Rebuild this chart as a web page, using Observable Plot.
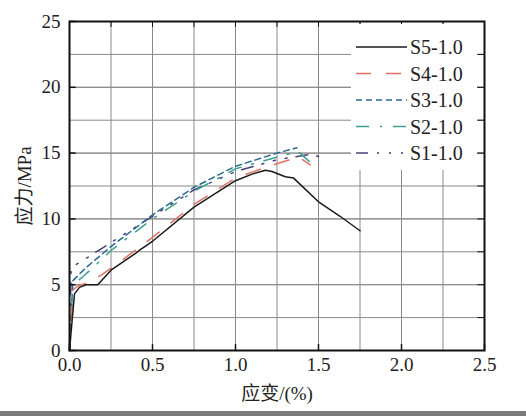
<!DOCTYPE html>
<html><head><meta charset="utf-8">
<script src="https://cdn.jsdelivr.net/npm/d3@7"></script>
<script src="https://cdn.jsdelivr.net/npm/@observablehq/plot@0.6"></script>
<style>
html,body{margin:0;padding:0;background:#fff;}
#wrap{position:relative;width:526px;height:416px;overflow:hidden;}
#bar{position:absolute;left:0;top:411px;width:526px;height:5px;background:#7a7a7a;}
#legend{position:absolute;left:351px;top:24px;}
svg text{font-family:"Liberation Serif","Times New Roman","DejaVu Serif","Noto Sans CJK SC",serif !important;}
</style></head>
<body><div id="wrap"><div id="chart"></div><svg id="legend" width="126" height="146"></svg><div id="bar"></div></div>
<script>
// Data (strain %, stress MPa)
const seriesNames = ["S5-1.0","S4-1.0","S3-1.0","S2-1.0","S1-1.0"];
const seriesColors = ["#1a1a1a","#dd7263","#2a6a8e","#3fa08c","#4b3f7c"];
const seriesDash = ["none","15,15","6,4","13,11,2,11","12,9,2,10,2,10,2,9"];

const S5x = [0,0.03,0.06,0.1,0.17,0.25,0.4,0.42,0.5,0.75,1.0,1.1,1.18,1.22,1.3,1.35,1.5,1.63,1.75];
const S5y = [0,4.3,4.8,5.0,5.0,6.1,7.4,7.6,8.3,10.9,12.9,13.4,13.7,13.6,13.2,13.1,11.3,10.2,9.1];
const S4x = [0,0.02,0.05,0.12,0.2,0.3,0.5,0.75,1.0,1.2,1.38,1.45];
const S4y = [0,4.6,4.9,5.2,5.8,6.7,8.6,11.1,13.1,14.0,14.7,14.1];
const S3x = [0,0.02,0.1,0.25,0.5,0.75,1.0,1.25,1.37];
const S3y = [0,5.3,6.3,7.9,10.3,12.4,14.0,15.0,15.4];
const S2x = [0,0.02,0.08,0.15,0.25,0.5,0.75,1.0,1.25,1.38,1.45];
const S2y = [0,5.0,5.6,6.4,7.6,10.0,12.1,13.8,14.7,15.1,14.3];
const S1x = [0,0.01,0.1,0.25,0.5,0.75,1.0,1.25,1.45,1.55];
const S1y = [0,6.3,7.0,8.2,10.2,12.2,13.6,14.5,14.9,14.6];

const xTicks = [0,0.5,1.0,1.5,2.0,2.5];
const yTicks = [0,5,10,15,20,25];
const xGrid = d3.range(0.25,2.5,0.25);
const yGrid = d3.range(2.5,25,2.5);

const allX = [S5x,S4x,S3x,S2x,S1x];
const allY = [S5y,S4y,S3y,S2y,S1y];

const serif = "Liberation Serif, Times New Roman, DejaVu Serif, Noto Sans CJK SC, serif";

const lineMarks = allX.map((xs,i)=>Plot.line(xs.map((x,j)=>({x,y:allY[i][j]})),{
  x:"x",y:"y",stroke:seriesColors[i],strokeWidth:1.5,strokeDasharray:seriesDash[i]==="none"?null:seriesDash[i]
})).reverse();

const chart = Plot.plot({
  width:526,height:416,
  marginLeft:69,marginRight:42,marginTop:21,marginBottom:66,
  style:{fontFamily:serif,background:"transparent",color:"#222"},
  x:{domain:[0,2.5]},
  y:{domain:[0,25]},
  marks:[
    Plot.ruleX(xGrid,{stroke:"#8a8a8a",strokeWidth:1}),
    Plot.ruleY(yGrid.concat([5,10,15,20]),{stroke:"#8a8a8a",strokeWidth:1}),
    ...lineMarks,
    // inward ticks
    Plot.ruleX(xTicks,{y1:0,y2:0.45,stroke:"#111",strokeWidth:1.5}),
    Plot.ruleX(xGrid,{y1:25,y2:24.55,stroke:"#111",strokeWidth:1}),
    Plot.ruleY(yTicks,{x1:0,x2:0.04,stroke:"#111",strokeWidth:1.5}),
    Plot.ruleY(yGrid,{x1:2.5,x2:2.46,stroke:"#111",strokeWidth:1}),
    Plot.frame({stroke:"#111",strokeWidth:2}),
    Plot.axisX(xTicks,{tickSize:0,tickPadding:7,fontSize:19,tickFormat:d3.format(".1f"),
      label:"应变/(%)",labelAnchor:"center",labelArrow:"none",labelOffset:49}),
    Plot.axisY(yTicks,{tickSize:0,tickPadding:9,fontSize:19,
      label:"应力/MPa",labelAnchor:"center",labelArrow:"none",labelOffset:52})
  ]
});
document.getElementById("chart").appendChild(chart);

// legend
const lg = d3.select("#legend");
lg.append("rect").attr("width",126).attr("height",146).attr("fill","#fff");
seriesNames.forEach((name,i)=>{
  const y = 23 + i*26.5;
  lg.append("line").attr("x1",5).attr("x2",56).attr("y1",y).attr("y2",y)
    .attr("stroke",seriesColors[i]).attr("stroke-width",1.5)
    .attr("stroke-dasharray",seriesDash[i]==="none"?null:seriesDash[i]);
  lg.append("text").attr("x",59).attr("y",y).attr("dy","0.35em")
    .attr("font-size",20).attr("fill","#222").text(name);
});
</script></body></html>
